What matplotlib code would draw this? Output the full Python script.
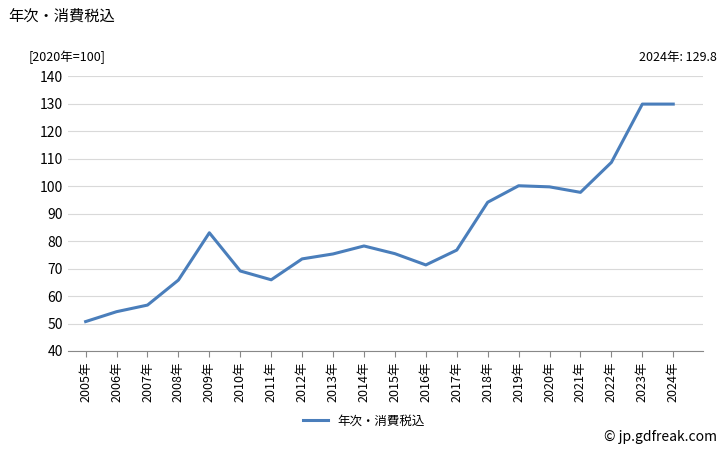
import matplotlib.pyplot as plt

plt.rcParams['font.family'] = ['Noto Sans CJK JP', 'DejaVu Sans']

years = [str(y) + "年" for y in range(2005, 2025)]
values = [50.7, 54.3, 56.7, 65.8, 83.0, 69.1, 65.9, 73.5, 75.3, 78.2,
          75.4, 71.3, 76.7, 94.1, 100.1, 99.7, 97.7, 108.6, 129.8, 129.8]

fig = plt.figure(figsize=(7.28, 4.5), dpi=100)
ax = fig.add_axes([0.093, 0.22, 0.873, 0.611])
ax.plot(range(len(years)), values, color="#4a7ebb", lw=2.2, label="年次・消費税込")

ax.set_ylim(40, 140)
ax.set_yticks(range(40, 141, 10))
ax.set_xlim(-0.58, len(years) - 0.03)
ax.set_xticks(range(len(years)))
ax.set_xticklabels(years, rotation=90, fontsize=9)
ax.tick_params(axis="y", labelsize=10, length=0)
ax.tick_params(axis="x", length=4, color="#888888")
ax.grid(axis="y", color="#d9d9d9", lw=0.8)
ax.set_axisbelow(True)
for s in ["top", "right"]:
    ax.spines[s].set_visible(False)
ax.spines["left"].set_visible(False)
ax.spines["bottom"].set_color("#888888")

fig.text(0.012, 0.955, "年次・消費税込", fontsize=11)
fig.text(0.04, 0.865, "[2020年=100]", fontsize=9)
fig.text(0.985, 0.865, "2024年: 129.8", fontsize=9, ha="right")
fig.text(0.985, 0.02, "© jp.gdfreak.com", fontsize=10, ha="right")
fig.legend(loc="lower center", bbox_to_anchor=(0.5, 0.025), frameon=False, fontsize=9,
           handlelength=2)

fig.savefig("out.png", dpi=100)
